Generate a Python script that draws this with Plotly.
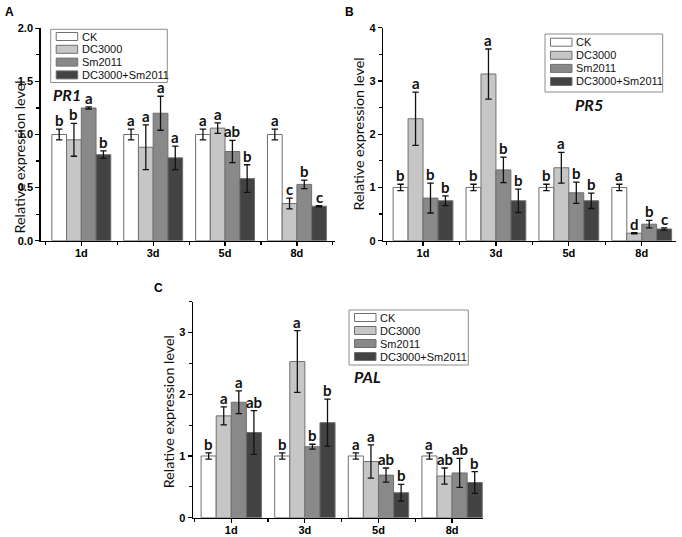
import plotly.graph_objects as go

W, H = 682, 537

categories = ["1d", "3d", "5d", "8d"]
groups = ["CK", "DC3000", "Sm2011", "DC3000+Sm2011"]
colors = ["#ffffff", "#c6c6c6", "#898989", "#434343"]

# PR1
pr1_mean = {
    "CK": [1.0, 1.0, 1.0, 1.0],
    "DC3000": [0.95, 0.88, 1.06, 0.35],
    "Sm2011": [1.25, 1.20, 0.84, 0.53],
    "DC3000+Sm2011": [0.81, 0.78, 0.585, 0.325],
}
pr1_err = {
    "CK": [0.05, 0.05, 0.05, 0.05],
    "DC3000": [0.155, 0.21, 0.05, 0.05],
    "Sm2011": [0.01, 0.16, 0.105, 0.04],
    "DC3000+Sm2011": [0.035, 0.11, 0.13, 0.006],
}
pr1_letters = {
    "CK": ["b", "a", "a", "a"],
    "DC3000": ["b", "a", "a", "c"],
    "Sm2011": ["a", "a", "ab", "b"],
    "DC3000+Sm2011": ["b", "a", "b", "c"],
}

# PR5
pr5_mean = {
    "CK": [1.0, 1.0, 1.0, 1.0],
    "DC3000": [2.29, 3.13, 1.37, 0.14],
    "Sm2011": [0.80, 1.33, 0.90, 0.31],
    "DC3000+Sm2011": [0.75, 0.75, 0.75, 0.22],
}
pr5_err = {
    "CK": [0.06, 0.06, 0.06, 0.06],
    "DC3000": [0.50, 0.47, 0.29, 0.01],
    "Sm2011": [0.28, 0.24, 0.20, 0.07],
    "DC3000+Sm2011": [0.09, 0.22, 0.145, 0.02],
}
pr5_letters = {
    "CK": ["b", "b", "b", "a"],
    "DC3000": ["a", "a", "a", "d"],
    "Sm2011": ["b", "b", "b", "b"],
    "DC3000+Sm2011": ["b", "b", "b", "c"],
}

# PAL
pal_mean = {
    "CK": [1.0, 1.0, 1.0, 1.0],
    "DC3000": [1.65, 2.53, 0.91, 0.675],
    "Sm2011": [1.87, 1.15, 0.69, 0.725],
    "DC3000+Sm2011": [1.38, 1.54, 0.405, 0.57],
}
pal_err = {
    "CK": [0.05, 0.05, 0.05, 0.05],
    "DC3000": [0.145, 0.50, 0.27, 0.13],
    "Sm2011": [0.185, 0.04, 0.115, 0.235],
    "DC3000+Sm2011": [0.355, 0.38, 0.135, 0.175],
}
pal_letters = {
    "CK": ["b", "b", "a", "a"],
    "DC3000": ["a", "a", "a", "ab"],
    "Sm2011": ["a", "b", "ab", "ab"],
    "DC3000+Sm2011": ["ab", "b", "b", "b"],
}

BARGAP = 0.18
BW = (1 - BARGAP) / 4
xpos = list(range(len(categories)))


def px(x):
    return x / W


def py(y):
    return 1 - y / H


panels = [
    dict(s="", mean=pr1_mean, err=pr1_err, let=pr1_letters, xd=(40.7, 335), yd=(28.3, 240.7),
         yr=[0, 2], dt=0.5, fmt=".1f", xr=[-0.565, 3.53], gene="PR1", gp=(50.5, 94),
         leg=(50.7, 29.3, 167.3, 82.5), lrow=36.5, lsp=12.8, title=(18.5, 157), pl="A", plp=(3, 12.5)),
    dict(s="2", mean=pr5_mean, err=pr5_err, let=pr5_letters, xd=(383.3, 676), yd=(27.7, 240.7),
         yr=[0, 4], dt=1, fmt="d", xr=[-0.545, 3.47], gene="PR5", gp=(573, 105),
         leg=(545, 34, 662.7, 92), lrow=42.2, lsp=13.1, title=(358.5, 134), pl="B", plp=(343, 12.5)),
    dict(s="3", mean=pal_mean, err=pal_err, let=pal_letters, xd=(193, 483), yd=(301.7, 517.7),
         yr=[0, 3.5], dt=1, fmt="d", xr=[-0.52, 3.42], gene="PAL", gp=(351.7, 376.7),
         leg=(349, 310, 468.3, 365), lrow=317.5, lsp=13.0, title=(168.5, 411.7), pl="C", plp=(152, 287.5)),
]

fig = go.Figure()
annotations = []
shapes = []
axis_font = dict(family="Liberation Sans, Arial", size=11, color="#000", weight="bold")

layout = dict(
    width=W, height=H, margin=dict(l=0, r=0, t=0, b=0, autoexpand=False),
    paper_bgcolor="white", plot_bgcolor="white",
    barmode="group", bargap=BARGAP, bargroupgap=0, showlegend=False,
)

for p in panels:
    s = p["s"]
    xa = "x" + s
    ya = "y" + s
    for k, g in enumerate(groups):
        fig.add_trace(go.Bar(
            x=xpos, y=p["mean"][g], name=g, xaxis=xa, yaxis=ya,
            marker=dict(color=colors[k], line=dict(color="#6f6f6f", width=1)),
            error_y=dict(type="data", array=p["err"][g], visible=True,
                         color="#111", thickness=1.3, width=3.2),
            hoverinfo="skip",
        ))
        off = (k - 1.5) * BW
        for i, lt in enumerate(p["let"][g]):
            annotations.append(dict(
                x=xpos[i] + off, y=p["mean"][g][i] + p["err"][g][i], xref=xa, yref=ya,
                text=lt, showarrow=False, yanchor="bottom", xanchor="center", yshift=-2,
                font=dict(family="Lato", size=15, color="#111", weight="bold"),
            ))
    layout["xaxis" + s] = dict(
        domain=[px(p["xd"][0]), px(p["xd"][1])], anchor=ya, range=p["xr"], automargin=False,
        tickvals=xpos, ticktext=categories, showline=True, linecolor="#000", linewidth=1.5,
        ticks="outside", ticklen=4, tickwidth=1.2, tickcolor="#000", showgrid=False, zeroline=False,
        tickfont=axis_font, ticklabelstandoff=-2,
        minor=dict(tick0=0.5, dtick=1, ticks="outside", ticklen=3, tickwidth=1.2, tickcolor="#000"),
    )
    layout["yaxis" + s] = dict(
        domain=[py(p["yd"][1]), py(p["yd"][0])], anchor=xa, range=p["yr"], dtick=p["dt"], tick0=0,
        tickformat=p["fmt"], showline=True, linecolor="#000", linewidth=1.5, automargin=False,
        ticks="outside", ticklen=4, tickwidth=1.2, tickcolor="#000", showgrid=False, zeroline=False,
        tickfont=axis_font,
        minor=dict(dtick=p["dt"] / 2, ticks="outside", ticklen=3, tickwidth=1.2, tickcolor="#000"),
    )
    annotations.append(dict(
        x=px(p["title"][0]), y=py(p["title"][1]), xref="paper", yref="paper",
        text="Relative expression level", textangle=-90, showarrow=False,
        xanchor="center", yanchor="middle",
        font=dict(family="Lato", size=14.3, color="#111"),
    ))
    annotations.append(dict(
        x=px(p["gp"][0]), y=py(p["gp"][1]), xref="paper", yref="paper",
        text="<b><i>" + p["gene"] + "</i></b>", showarrow=False,
        xanchor="left", yanchor="middle",
        font=dict(family="Lato", size=16, color="#111"),
    ))
    annotations.append(dict(
        x=px(p["plp"][0]), y=py(p["plp"][1]), xref="paper", yref="paper",
        text="<b>" + p["pl"] + "</b>", showarrow=False,
        xanchor="left", yanchor="middle",
        font=dict(family="Liberation Sans, Arial", size=12, color="#000"),
    ))
    bx0, by0, bx1, by1 = p["leg"]
    shapes.append(dict(type="rect", xref="paper", yref="paper",
                       x0=px(bx0), x1=px(bx1), y0=py(by1), y1=py(by0),
                       line=dict(color="#8c8c8c", width=1), fillcolor="rgba(0,0,0,0)"))
    for k, g in enumerate(groups):
        cy = p["lrow"] + k * p["lsp"]
        sx0 = bx0 + 5.5
        sx1 = sx0 + 21.5
        shapes.append(dict(type="rect", xref="paper", yref="paper",
                           x0=px(sx0), x1=px(sx1), y0=py(cy + 4), y1=py(cy - 4),
                           line=dict(color="#6f6f6f", width=1), fillcolor=colors[k]))
        annotations.append(dict(
            x=px(sx1 + 2), y=py(cy), xref="paper", yref="paper", text=g, showarrow=False,
            xanchor="left", yanchor="middle",
            font=dict(family="Liberation Sans, Arial", size=11, color="#111"),
        ))

layout["annotations"] = annotations
layout["shapes"] = shapes
fig.update_layout(**layout)
fig.write_html(
    "out.html",
    config={"displayModeBar": False, "staticPlot": True},
    post_script="document.body.style.margin='0';document.body.style.overflow='hidden';",
)
